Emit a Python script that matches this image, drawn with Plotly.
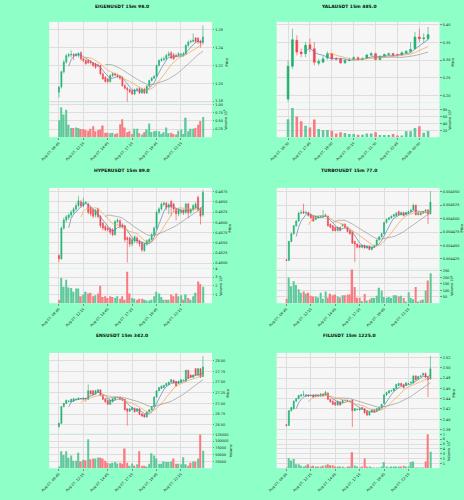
import plotly.graph_objects as go
import pandas as pd

W, H = 464, 500
BG = '#8effc6'
UP, DN = '#1fb26f', '#f2434b'
VUP, VDN = '#5cc99a', '#f77b80'
MAV_COLORS = ['#5b83b8', '#f5a04a', '#9a9a9a']
MAVS = [5, 10, 20]
FONT = 'DejaVu Sans'

labels60 = ['Aug 07, 09:45', 'Aug 07, 12:15', 'Aug 07, 14:45', 'Aug 07, 17:15', 'Aug 07, 19:45', 'Aug 07, 22:15']
labels33 = ['Aug 07, 16:30', 'Aug 07, 17:45', 'Aug 07, 19:00', 'Aug 07, 20:15', 'Aug 07, 21:30', 'Aug 07, 22:45', 'Aug 08, 00:00']

# ---------------- EIGENUSDT ----------------
eig_o = [1.190,1.196,1.213,1.224,1.231,1.232,1.2325,1.231,1.2313,1.2343,1.2275,1.2256,1.2256,1.2245,1.2230,1.2219,1.2200,1.2200,1.2106,1.2068,
         1.2049,1.2019,1.2087,1.2106,1.2094,1.2079,1.2068,1.1974,1.1943,1.1928,1.1915,1.1879,1.1928,1.1943,1.1891,1.1935,1.1891,1.1966,1.2030,1.2057,
         1.2079,1.2200,1.2256,1.2268,1.2275,1.2313,1.2343,1.2320,1.2313,1.2313,1.2320,1.2320,1.2332,1.2426,1.2464,1.2471,1.2509,1.2505,1.2471,1.2456]
eig_c = [1.1955,1.213,1.224,1.231,1.232,1.2325,1.231,1.2328,1.2335,1.2275,1.2256,1.2219,1.2230,1.2230,1.2200,1.2181,1.2195,1.2106,1.2049,1.2019,
         1.2019,1.2087,1.2106,1.2094,1.2079,1.2057,1.1974,1.1943,1.1928,1.1906,1.1879,1.1928,1.1935,1.1891,1.1935,1.1891,1.1966,1.2030,1.2057,1.2079,
         1.2200,1.2256,1.2268,1.2275,1.2313,1.2332,1.2283,1.2275,1.2305,1.2332,1.2324,1.2332,1.2426,1.2464,1.2471,1.2483,1.2471,1.2464,1.2450,1.2520]
eig_h = [1.197,1.214,1.226,1.233,1.234,1.237,1.234,1.234,1.235,1.236,1.229,1.227,1.227,1.226,1.224,1.223,1.222,1.221,1.212,1.208,
         1.206,1.210,1.212,1.212,1.211,1.209,1.208,1.199,1.196,1.194,1.193,1.194,1.195,1.196,1.195,1.195,1.198,1.204,1.207,1.209,
         1.221,1.227,1.229,1.230,1.233,1.236,1.236,1.234,1.233,1.235,1.234,1.235,1.244,1.248,1.249,1.2558,1.252,1.252,1.249,1.2652]
eig_l = [1.184,1.194,1.211,1.222,1.229,1.229,1.226,1.230,1.229,1.226,1.224,1.221,1.222,1.221,1.218,1.216,1.218,1.209,1.204,1.201,
         1.200,1.201,1.207,1.208,1.206,1.204,1.196,1.193,1.1793,1.189,1.187,1.187,1.191,1.188,1.188,1.188,1.188,1.196,1.202,1.205,
         1.207,1.219,1.224,1.225,1.226,1.230,1.227,1.226,1.229,1.230,1.230,1.230,1.232,1.241,1.245,1.246,1.245,1.244,1.240,1.244]
eig_v = [0.52,0.92,0.70,0.84,0.38,0.28,0.28,0.30,0.28,0.25,0.25,0.22,0.20,0.26,0.34,0.18,0.22,0.24,0.36,0.14,
         0.14,0.12,0.14,0.10,0.12,0.40,0.55,0.30,0.15,0.18,0.10,0.26,0.26,0.12,0.08,0.15,0.24,0.42,0.16,0.18,
         0.20,0.18,0.10,0.15,0.30,0.12,0.14,0.10,0.08,0.20,0.24,0.10,0.60,0.18,0.26,0.26,0.28,0.38,0.50,0.62]

# ---------------- YALAUSDT ----------------
yal_o = [0.1906,0.2830,0.3556,0.3226,0.3179,0.3433,0.3320,0.2915,0.2943,0.3056,0.3179,0.3037,0.3037,0.2924,0.2990,0.3018,0.3066,
         0.3028,0.3056,0.3141,0.3179,0.3018,0.3113,0.3160,0.3179,0.3150,0.3150,0.3207,0.3245,0.3320,0.3650,0.3603,0.3603]
yal_c = [0.2830,0.3575,0.3226,0.3179,0.3415,0.3320,0.2943,0.2962,0.3037,0.3179,0.3037,0.3028,0.2924,0.2990,0.3000,0.3066,0.3018,
         0.3037,0.3141,0.3179,0.3018,0.3103,0.3160,0.3179,0.3141,0.3141,0.3207,0.3245,0.3301,0.3650,0.3603,0.3622,0.3716]
yal_h = [0.2990,0.3886,0.3697,0.3320,0.3509,0.3603,0.3509,0.3037,0.3113,0.3245,0.3207,0.3084,0.3066,0.3037,0.3066,0.3113,0.3103,
         0.3084,0.3179,0.3226,0.3207,0.3141,0.3179,0.3207,0.3207,0.3179,0.3245,0.3282,0.3509,0.3792,0.3886,0.3750,0.3933]
yal_l = [0.1830,0.2754,0.3132,0.3084,0.3084,0.3226,0.2849,0.2849,0.2924,0.3018,0.2990,0.2990,0.2896,0.2896,0.2962,0.2990,0.2981,
         0.2990,0.3028,0.3113,0.2990,0.2990,0.3084,0.3132,0.3113,0.3103,0.3113,0.3179,0.3207,0.3301,0.3509,0.3490,0.3556]
yal_v = [52,85,60,46,33,28,51,24,21,21,19,11,14,12,9,9,7,7,11,11,14,6,6,6,9,5,5,17,17,27,32,13,18]

# ---------------- HYPERUSDT ----------------
hyp_o = [.4519,.4511,.4586,.4606,.4612,.4618,.4625,.4633,.4641,.4650,.4641,.4648,.4645,.4637,.4631,.4618,.4633,.4615,.4598,.4590,
         .4586,.4584,.4582,.4570,.4602,.4604,.4594,.4592,.4562,.4562,.4547,.4554,.4562,.4554,.4550,.4531,.4547,.4552,.4558,.4570,
         .4586,.4625,.4633,.4644,.4647,.4637,.4651,.4645,.4633,.4621,.4625,.4629,.4625,.4645,.4625,.4631,.4637,.4661,.4633,.4618]
hyp_c = [.4511,.4586,.4606,.4614,.4618,.4625,.4633,.4641,.4653,.4641,.4649,.4649,.4625,.4621,.4615,.4629,.4614,.4592,.4586,.4582,
         .4582,.4576,.4570,.4602,.4606,.4590,.4590,.4558,.4558,.4547,.4558,.4565,.4554,.4547,.4533,.4547,.4555,.4558,.4570,.4586,
         .4625,.4633,.4645,.4647,.4637,.4643,.4637,.4633,.4621,.4631,.4629,.4623,.4645,.4623,.4631,.4641,.4645,.4631,.4615,.4673]
hyp_h = [.4522,.4590,.4612,.4618,.4622,.4630,.4637,.4648,.4665,.4655,.4660,.4652,.4648,.4641,.4635,.4633,.4636,.4618,.4601,.4594,
         .4590,.4588,.4586,.4605,.4610,.4608,.4598,.4594,.4566,.4565,.4562,.4568,.4566,.4558,.4553,.4550,.4558,.4562,.4574,.4590,
         .4629,.4637,.4649,.4651,.4650,.4647,.4655,.4648,.4636,.4635,.4633,.4633,.4648,.4648,.4635,.4645,.4650,.4666,.4637,.4680]
hyp_l = [.4502,.4508,.4582,.4600,.4606,.4612,.4620,.4628,.4637,.4636,.4637,.4644,.4620,.4615,.4610,.4612,.4610,.4586,.4580,.4578,
         .4578,.4570,.4566,.4568,.4598,.4586,.4585,.4552,.4502,.4540,.4542,.4550,.4548,.4540,.4528,.4528,.4543,.4548,.4555,.4567,
         .4582,.4620,.4629,.4640,.4630,.4620,.4615,.4625,.4605,.4615,.4620,.4618,.4620,.4610,.4620,.4627,.4633,.4627,.4595,.4614]
hyp_v = [0.4,2.9,1.9,2.7,1.8,1.75,1.3,1.7,1.7,0.8,1.0,1.3,1.1,1.2,0.8,0.9,1.1,2.0,0.7,0.8,
         0.6,0.8,0.7,0.6,0.8,0.5,0.8,0.4,3.6,1.1,0.6,0.5,0.4,0.5,0.5,0.4,0.3,0.3,0.4,0.8,
         1.3,1.1,0.7,0.4,0.4,0.4,1.0,0.8,1.1,0.8,0.9,0.4,1.0,0.6,0.4,0.8,1.2,2.5,2.2,1.9]

# ---------------- TURBOUSDT ----------------
tur_o = [.0044233,.0044221,.0044573,.0044720,.0044866,.0044954,.0045101,.0045130,.0045101,.0045113,.0045072,.0045042,.0044984,.0045013,.0045036,
         .0045036,.0045042,.0045042,.0044896,.0044866,.0044837,.0044778,.0044837,.0044866,.0044896,.0044837,.0044778,.0044749,.0044573,.0044526,
         .0044502,.0044467,.0044502,.0044455,.0044485,.0044426,.0044467,.0044502,.0044602,.0044661,.0044720,.0044925,.0044984,.0045013,.0045042,
         .0045054,.0045130,.0045072,.0045113,.0045072,.0045101,.0045130,.0045160,.0045248,.0045072,.0045101,.0045101,.0045130,.0045160,.0045089]
tur_c = [.0044221,.0044573,.0044720,.0044866,.0044954,.0045101,.0045113,.0045101,.0045113,.0045054,.0045013,.0044954,.0045042,.0045042,.0045042,
         .0045046,.0045072,.0044866,.0044837,.0044778,.0044778,.0044837,.0044778,.0044896,.0044837,.0044761,.0044720,.0044543,.0044526,.0044467,
         .0044467,.0044502,.0044455,.0044485,.0044426,.0044467,.0044502,.0044602,.0044661,.0044720,.0044925,.0044984,.0045013,.0045042,.0045072,
         .0045101,.0045072,.0045113,.0045054,.0045113,.0045130,.0045160,.0045248,.0045072,.0045101,.0045072,.0045130,.0045160,.0045089,.0045306]
tur_h = [.0044245,.0044590,.0044735,.0044880,.0044970,.0045130,.0045160,.0045277,.0045150,.0045130,.0045090,.0045060,.0045060,.0045060,.0045060,
         .0045160,.0045090,.0045060,.0044910,.0044880,.0044850,.0044850,.0044850,.0044910,.0044910,.0044850,.0044790,.0044760,.0044590,.0044540,
         .0044515,.0044515,.0044515,.0044500,.0044500,.0044480,.0044515,.0044615,.0044675,.0044735,.0044940,.0045000,.0045030,.0045060,.0045090,
         .0045120,.0045145,.0045130,.0045130,.0045130,.0045145,.0045175,.0045277,.0045260,.0045120,.0045120,.0045145,.0045175,.0045175,.0045512]
tur_l = [.0044210,.0044210,.0044560,.0044700,.0044850,.0044940,.0045090,.0045085,.0045090,.0045040,.0045000,.0044940,.0044970,.0045000,.0045020,
         .0045020,.0045030,.0044850,.0044820,.0044760,.0044760,.0044760,.0044760,.0044850,.0044820,.0044740,.0044700,.0044530,.0044191,.0044450,
         .0044450,.0044450,.0044440,.0044440,.0044410,.0044410,.0044450,.0044490,.0044590,.0044650,.0044710,.0044910,.0044970,.0045000,.0045030,
         .0045040,.0045060,.0045060,.0045040,.0045060,.0045090,.0045120,.0045150,.0045060,.0045060,.0045060,.0045090,.0045120,.0044896,.0045080]
tur_v = [34,199,131,170,142,108,80,91,74,80,57,51,51,45,80,34,91,43,74,62,
         68,51,45,62,62,68,68,261,125,43,43,17,71,20,28,43,40,57,119,97,
         48,43,48,40,62,62,51,57,40,14,85,40,30,125,14,23,28,99,176,233]

# ---------------- ENSUSDT ----------------
ens_o = [26.463,26.537,26.929,27.003,27.048,27.040,27.055,27.095,27.099,27.118,27.099,27.118,27.099,27.299,27.299,27.225,27.262,27.321,27.188,27.114,
         27.077,26.981,27.040,27.099,27.148,27.151,27.114,27.099,26.877,26.818,26.855,26.892,26.818,26.877,26.759,26.744,26.685,26.803,26.855,26.929,
         27.151,27.299,27.351,27.373,27.425,27.447,27.499,27.543,27.521,27.469,27.499,27.540,27.521,27.780,27.669,27.617,27.817,27.669,27.817,27.632]
ens_c = [26.537,26.929,27.003,27.077,27.055,27.099,27.114,27.099,27.129,27.114,27.129,27.114,27.299,27.225,27.203,27.299,27.321,27.188,27.099,27.040,
         26.981,27.077,27.114,27.151,27.151,27.099,27.077,26.855,26.818,26.877,26.907,26.803,26.877,26.744,26.707,26.685,26.803,26.855,26.929,27.151,
         27.299,27.373,27.410,27.425,27.469,27.499,27.558,27.484,27.410,27.521,27.558,27.543,27.780,27.595,27.617,27.669,27.669,27.817,27.617,27.854]
ens_h = [26.55,26.94,27.02,27.09,27.07,27.11,27.13,27.12,27.14,27.13,27.14,27.13,27.447,27.31,27.31,27.32,27.34,27.33,27.20,27.12,
         27.09,27.09,27.13,27.17,27.16,27.16,27.12,27.11,26.89,26.89,26.92,26.90,26.89,26.89,26.77,26.75,26.81,26.87,26.94,27.16,
         27.31,27.39,27.42,27.44,27.48,27.51,27.57,27.56,27.53,27.53,27.57,27.56,27.79,27.79,27.68,27.68,27.83,27.83,27.83,28.113]
ens_l = [26.433,26.52,26.91,26.99,27.03,27.03,27.04,27.08,27.09,27.10,27.09,27.04,27.09,27.21,27.19,27.21,27.25,27.17,27.08,27.02,
         26.97,26.97,27.03,27.09,27.14,27.08,27.06,26.84,26.485,26.80,26.84,26.79,26.80,26.73,26.69,26.67,26.67,26.79,26.84,26.92,
         27.14,27.29,27.34,27.36,27.41,27.44,27.49,27.47,27.40,27.46,27.49,27.53,27.51,27.58,27.60,27.60,27.65,27.65,27.60,27.62]
ens_v = [6000,63000,49000,63000,39000,47000,28000,28000,57000,25000,31000,29000,107000,33000,36000,36000,40000,39000,36000,28000,
         20000,17000,20000,23000,17000,20000,16000,73000,20000,9000,17000,9000,15000,63000,9000,9000,6000,16000,55000,47000,
         36000,16000,16000,25000,23000,23000,25000,36000,16000,16000,15000,41000,15000,9000,20000,25000,25000,36000,125000,65000]

# ---------------- FILUSDT ----------------
fil_o = [2.3895,2.3880,2.4168,2.4205,2.4352,2.4401,2.4450,2.4470,2.4450,2.4474,2.4460,2.4474,2.4450,2.4474,2.4450,2.4493,2.4474,2.4511,2.4389,2.4352,
         2.4327,2.4278,2.4339,2.4327,2.4365,2.4370,2.4350,2.4370,2.4168,2.4190,2.4180,2.4229,2.4205,2.4156,2.4082,2.4143,2.4186,2.4156,2.4186,2.4229,
         2.4309,2.4474,2.4511,2.4550,2.4554,2.4597,2.4658,2.4695,2.4677,2.4658,2.4690,2.4707,2.4707,2.4842,2.4781,2.4830,2.4860,2.4891,2.4818,2.4781]
fil_c = [2.3880,2.4168,2.4229,2.4352,2.4401,2.4462,2.4474,2.4474,2.4474,2.4450,2.4462,2.4431,2.4474,2.4450,2.4493,2.4450,2.4523,2.4389,2.4339,2.4290,
         2.4278,2.4352,2.4278,2.4370,2.4370,2.4352,2.4352,2.4168,2.4205,2.4192,2.4205,2.4205,2.4125,2.4082,2.4143,2.4186,2.4143,2.4205,2.4229,2.4290,
         2.4474,2.4523,2.4554,2.4554,2.4597,2.4677,2.4695,2.4658,2.4615,2.4707,2.4695,2.4720,2.4842,2.4769,2.4830,2.4842,2.4891,2.4818,2.4769,2.4983]
fil_h = [2.3910,2.4180,2.4240,2.4365,2.4415,2.4475,2.4490,2.4554,2.4490,2.4490,2.4480,2.4490,2.4490,2.4490,2.4505,2.4505,2.4554,2.4520,2.4400,2.4365,
         2.4340,2.4365,2.4350,2.4385,2.4385,2.4385,2.4365,2.4385,2.4220,2.4205,2.4220,2.4240,2.4215,2.4165,2.4155,2.4200,2.4200,2.4220,2.4240,2.4300,
         2.4490,2.4535,2.4565,2.4570,2.4610,2.4690,2.4710,2.4710,2.4690,2.4720,2.4710,2.4735,2.4855,2.4855,2.4845,2.4855,2.4905,2.4905,2.4830,2.5228]
fil_l = [2.3860,2.3870,2.4150,2.4190,2.4340,2.4390,2.4440,2.4455,2.4440,2.4440,2.4450,2.4420,2.4440,2.4440,2.4440,2.4440,2.4460,2.4375,2.4325,2.4275,
         2.4265,2.4265,2.4265,2.4315,2.4355,2.4340,2.4340,2.3849,2.4155,2.4175,2.4165,2.4190,2.4110,2.4065,2.4070,2.4130,2.4130,2.4145,2.4175,2.4215,
         2.4295,2.4460,2.4500,2.4540,2.4540,2.4585,2.4645,2.4645,2.4600,2.4645,2.4680,2.4695,2.4695,2.4755,2.4770,2.4820,2.4845,2.4805,2.4431,2.4770]
fil_v = [0.16,2.1,1.6,1.9,0.8,0.8,0.5,0.3,0.5,0.8,0.3,0.5,0.3,0.3,0.3,0.5,0.6,0.8,0.6,0.6,
         0.3,0.3,0.3,0.3,0.16,0.3,0.3,3.3,0.55,0.3,0.16,0.3,2.0,0.3,0.3,0.16,0.16,0.16,0.16,0.3,
         1.3,0.3,0.16,0.3,0.3,0.3,0.3,0.3,0.5,0.3,0.3,1.3,1.4,0.16,0.16,0.16,0.16,1.4,7.0,3.4]

panels = [
    dict(title='EIGENUSDT 15m 98.0', o=eig_o, h=eig_h, l=eig_l, c=eig_c, v=eig_v, labels=labels60, step=10,
         pad=(4.0, 3.7), yr=[1.1785, 1.269], yt=[1.18, 1.20, 1.22, 1.24, 1.26], yf='.2f',
         vr=[0, 1.07], vt=[0.25, 0.5, 0.75, 1.0], vf='.2f', vl='Volume 10<sup>6</sup>'),
    dict(title='YALAUSDT 15m 485.0', o=yal_o, h=yal_h, l=yal_l, c=yal_c, v=yal_v, labels=labels33, step=5,
         pad=(2.6, 2.6), yr=[0.1811, 0.4075], yt=[0.20, 0.25, 0.30, 0.35, 0.40], yf='.2f',
         vr=[0, 101], vt=[20, 40, 60, 80], vf='d', vl='Volume 10<sup>3</sup>'),
    dict(title='HYPERUSDT 15m 89.0', o=hyp_o, h=hyp_h, l=hyp_l, c=hyp_c, v=hyp_v, labels=labels60, step=10,
         pad=(4.0, 3.7), yr=[0.44874, 0.46845], yt=[0.45, 0.4525, 0.455, 0.4575, 0.46, 0.4625, 0.465, 0.4675], yf='.4f',
         vr=[0, 4.0], vt=[1, 2, 3, 4], vf='d', vl='Volume 10<sup>6</sup>'),
    dict(title='TURBOUSDT 15m 77.0', o=tur_o, h=tur_h, l=tur_l, c=tur_c, v=tur_v, labels=labels60, step=10,
         pad=(4.0, 3.7), yr=[0.0044074, 0.0045571], yt=[0.004425, 0.00445, 0.004475, 0.0045, 0.004525, 0.00455], yf='.6f',
         vr=[0, 270], vt=[50, 100, 150, 200, 250], vf='d', vl='Volume 10<sup>6</sup>'),
    dict(title='ENSUSDT 15m 342.0', o=ens_o, h=ens_h, l=ens_l, c=ens_c, v=ens_v, labels=labels60, step=10,
         pad=(4.0, 3.7), yr=[26.30, 28.187], yt=[26.5, 26.75, 27.0, 27.25, 27.5, 27.75, 28.0], yf='.2f',
         vr=[0, 129000], vt=[25000, 50000, 75000, 100000, 125000], vf='d', vl='Volume'),
    dict(title='FILUSDT 15m 1225.0', o=fil_o, h=fil_h, l=fil_l, c=fil_c, v=fil_v, labels=labels60, step=10,
         pad=(4.0, 3.7), yr=[2.3726, 2.529], yt=[2.38, 2.40, 2.42, 2.44, 2.46, 2.48, 2.50, 2.52], yf='.2f',
         vr=[0, 7.2], vt=[1, 2, 3, 4, 5, 6, 7], vf='d', vl='Volume 10<sup>6</sup>'),
]

COL_X = [(42, 208), (274, 440)]
COL_CENTER = [116, 348]
ROW_TOP = [20, 187, 353]
TITLE_Y = [5, 170, 336]
PRICE_H, VOL_H = 81, 35

fig = go.Figure()
layout = dict(width=W, height=H, margin=dict(l=0, r=0, t=0, b=0), paper_bgcolor=BG,
              plot_bgcolor='#f6f6f6', showlegend=False, boxgap=0.38, bargap=0.4,
              font=dict(family=FONT, size=3.5, color='#222'))
annotations = []
TICKF = dict(family=FONT, size=3.5, color='#222')

for k, p in enumerate(panels):
    row, col = divmod(k, 2)
    n = len(p['c'])
    xs = list(range(n))
    ia, ib = 2 * k + 1, 2 * k + 2
    xa = 'x' if ia == 1 else f'x{ia}'
    ya = 'y' if ia == 1 else f'y{ia}'
    xb, yb = f'x{ib}', f'y{ib}'
    x0, x1 = COL_X[col]
    top = ROW_TOP[row]
    dom_x = [x0 / W, x1 / W]
    dom_p = [1 - (top + PRICE_H) / H, 1 - top / H]
    dom_v = [1 - (top + PRICE_H + VOL_H) / H, 1 - (top + PRICE_H) / H]
    tickvals = list(range(0, n, p['step']))[:len(p['labels'])]
    xr = [-p['pad'][0], n - 1 + p['pad'][1]]

    fig.add_trace(go.Candlestick(
        x=xs, open=p['o'], high=p['h'], low=p['l'], close=p['c'], xaxis=xa, yaxis=ya,
        increasing=dict(line=dict(color=UP, width=0.6), fillcolor=UP),
        decreasing=dict(line=dict(color=DN, width=0.6), fillcolor=DN),
        whiskerwidth=0, hoverinfo='skip'))
    close = pd.Series(p['c'])
    for m, mc in zip(MAVS, MAV_COLORS):
        ma = close.rolling(m).mean()
        fig.add_trace(go.Scatter(x=xs, y=ma, mode='lines', line=dict(color=mc, width=0.7),
                                 xaxis=xa, yaxis=ya, hoverinfo='skip'))
    vcols = [VUP if c >= o else VDN for o, c in zip(p['o'], p['c'])]
    fig.add_trace(go.Bar(x=xs, y=p['v'], marker=dict(color=vcols, line=dict(width=0)),
                         xaxis=xb, yaxis=yb, hoverinfo='skip'))

    key_xa = 'xaxis' if ia == 1 else f'xaxis{ia}'
    key_ya = 'yaxis' if ia == 1 else f'yaxis{ia}'
    grid = '#dedede'
    layout[key_xa] = dict(domain=dom_x, anchor=ya, range=xr, tickvals=tickvals, showticklabels=False,
                          showgrid=True, gridcolor=grid, gridwidth=0.5, zeroline=False,
                          rangeslider=dict(visible=False), ticks='')
    layout[f'xaxis{ib}'] = dict(domain=dom_x, anchor=yb, range=xr, matches=xa, tickvals=tickvals,
                                ticktext=p['labels'], tickangle=-45, tickfont=TICKF,
                                showgrid=True, gridcolor=grid, gridwidth=0.5, zeroline=False,
                                ticks='outside', ticklen=1.5, tickcolor='#888', tickwidth=0.5)
    layout[key_ya] = dict(domain=dom_p, anchor=xa, side='right', range=p['yr'], tickvals=p['yt'],
                          tickformat=p['yf'], tickfont=TICKF, showgrid=True, gridcolor=grid,
                          gridwidth=0.5, zeroline=False, ticks='outside', ticklen=1.5,
                          tickcolor='#888', tickwidth=0.5,
                          title=dict(text='Price', font=dict(family=FONT, size=3.5), standoff=2))
    layout[f'yaxis{ib}'] = dict(domain=dom_v, anchor=xb, side='right', range=p['vr'], tickvals=p['vt'],
                                tickformat=p['vf'], tickfont=TICKF, showgrid=True, gridcolor=grid,
                                gridwidth=0.5, zeroline=False, ticks='outside', ticklen=1.5,
                                tickcolor='#888', tickwidth=0.5,
                                title=dict(text=p['vl'], font=dict(family=FONT, size=3.5), standoff=2))
    annotations.append(dict(text='<b>' + p['title'] + '</b>', x=COL_CENTER[col] / W,
                            y=1 - TITLE_Y[row] / H, xref='paper', yref='paper',
                            showarrow=False, xanchor='center', yanchor='middle',
                            font=dict(family=FONT, size=4.5, color='#111')))

layout['annotations'] = annotations
fig.update_layout(**layout)
fig.write_html('out.html')
